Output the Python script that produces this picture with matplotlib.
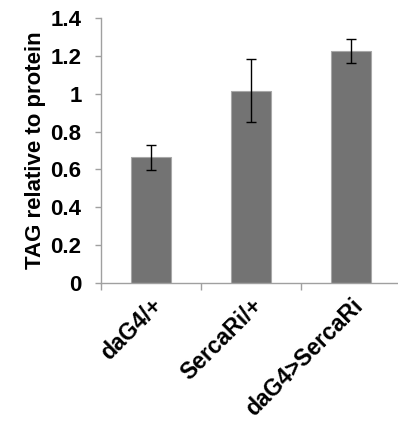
import matplotlib
matplotlib.use('Agg')
import matplotlib.pyplot as plt

genotypes = ['daG4/+', 'SercaRi/+', 'daG4>SercaRi']
tag = [0.665, 1.016, 1.224]
err = [0.066, 0.165, 0.063]
yticks = [0, 0.2, 0.4, 0.6, 0.8, 1, 1.2, 1.4]

plt.rcParams['font.family'] = ['Liberation Sans', 'DejaVu Sans']
plt.rcParams['font.weight'] = 'bold'

fig = plt.figure(figsize=(3.98, 4.23), dpi=100)
ax = fig.add_axes([101 / 398, 1 - 283 / 423, 300 / 398, 265 / 423])

x = range(len(genotypes))
ax.bar(x, tag, width=0.4, color='#737373', edgecolor='#a8a8a8', linewidth=0.8,
       yerr=err, error_kw=dict(ecolor='black', elinewidth=1, capsize=3.5, capthick=1))

ax.set_xlim(-0.5, 2.5)
ax.set_ylim(0, 1.4)
ax.set_yticks(yticks)
ax.set_yticklabels(['0', '0.2', '0.4', '0.6', '0.8', '1', '1.2', '1.4'],
                   fontsize=16, fontweight='bold')
ax.set_ylabel('TAG relative to protein', fontsize=16, fontweight='bold', labelpad=3)

ax.set_xticks(list(x))
ax.set_xticklabels(genotypes, rotation=45, ha='right', va='top',
                   rotation_mode='anchor', fontsize=16.5, fontweight='bold')
ax.set_xticks([-0.5, 0.5, 1.5, 2.5], minor=True)
ax.tick_params(axis='x', which='major', length=0, pad=8)
ax.tick_params(axis='x', which='minor', length=5, color='#a0a0a0', width=1)
ax.tick_params(axis='y', length=4, color='#a0a0a0', width=1, pad=10)

for s in ['top', 'right']:
    ax.spines[s].set_visible(False)
for s in ['left', 'bottom']:
    ax.spines[s].set_color('#a0a0a0')
    ax.spines[s].set_linewidth(1)

fig.savefig('out.png', dpi=100)
